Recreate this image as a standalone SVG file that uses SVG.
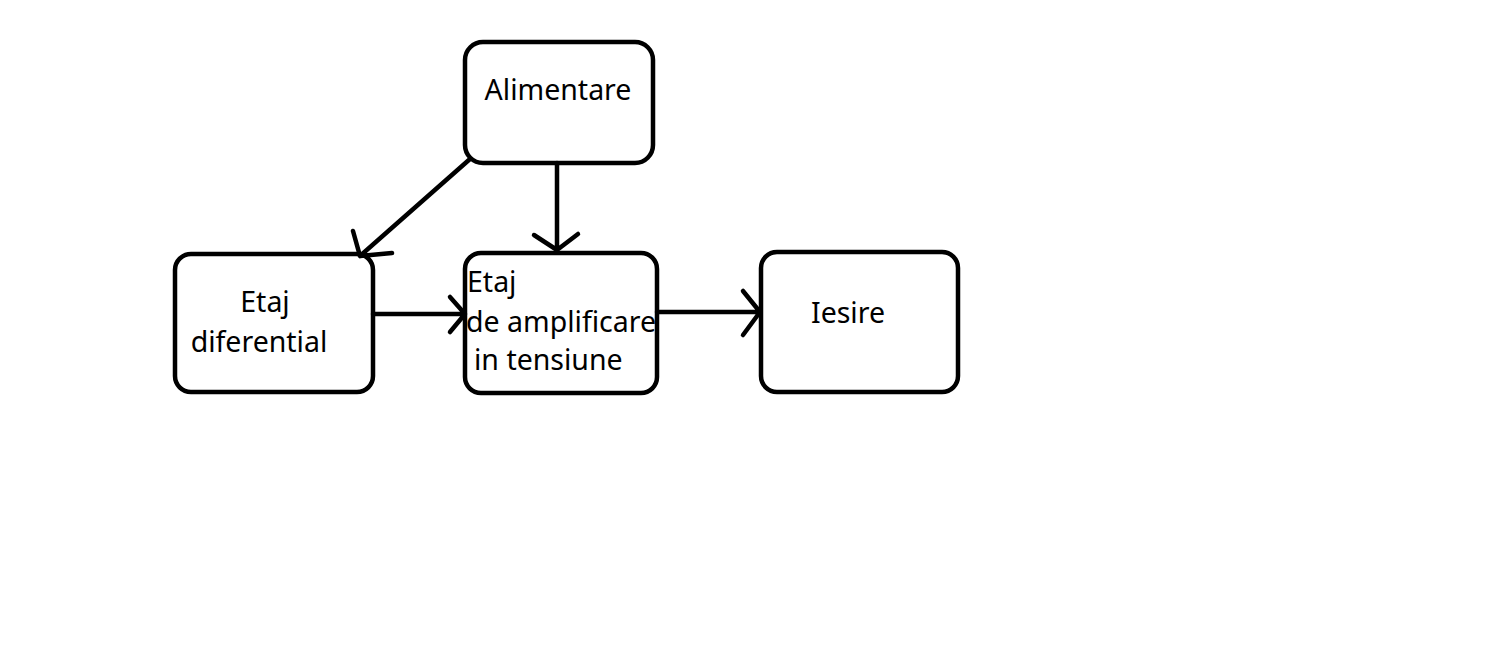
<svg xmlns="http://www.w3.org/2000/svg" width="1503" height="671" viewBox="0 0 1503 671">
<style>
.box{fill:#fff;stroke:#000;stroke-width:4.5}
.t{font-family:"Noto Sans","Open Sans",sans-serif;font-size:28.5px;fill:#000}
.c{fill:none;stroke:#000;stroke-width:4.5;stroke-linecap:round;stroke-linejoin:round}
</style>
<rect width="1503" height="671" fill="#fff"/>
<g id="alimentare"><rect class="box" x="465" y="42" width="188" height="121" rx="18"/><text class="t" x="558" y="100" text-anchor="middle">Alimentare</text></g>
<g id="etaj-diferential"><rect class="box" x="175" y="254" width="198" height="138" rx="16"/><text class="t" x="265" y="312" text-anchor="middle">Etaj</text><text class="t" x="259" y="352" text-anchor="middle">diferential</text></g>
<g id="etaj-amplificare"><rect class="box" x="465" y="253" width="192" height="140" rx="16"/><text class="t" x="467" y="292">Etaj</text><text class="t" x="466" y="332">de amplificare</text><text class="t" x="474" y="370">in tensiune</text></g>
<g id="iesire"><rect class="box" x="761" y="252" width="197" height="140" rx="16"/><text class="t" x="848" y="323" text-anchor="middle">Iesire</text></g>
<g id="connectors">
<path class="c" d="M470 159 L360 256 M353 231 L360 256 L392 253"/>
<path class="c" d="M557 163 V250 M534 235 L557 250 L578 234"/>
<path class="c" d="M373 314 H465 M450 297 L465 314 L450 332"/>
<path class="c" d="M657 312 H760 M743 291 L760 312 L743 335"/>
</g>
</svg>
